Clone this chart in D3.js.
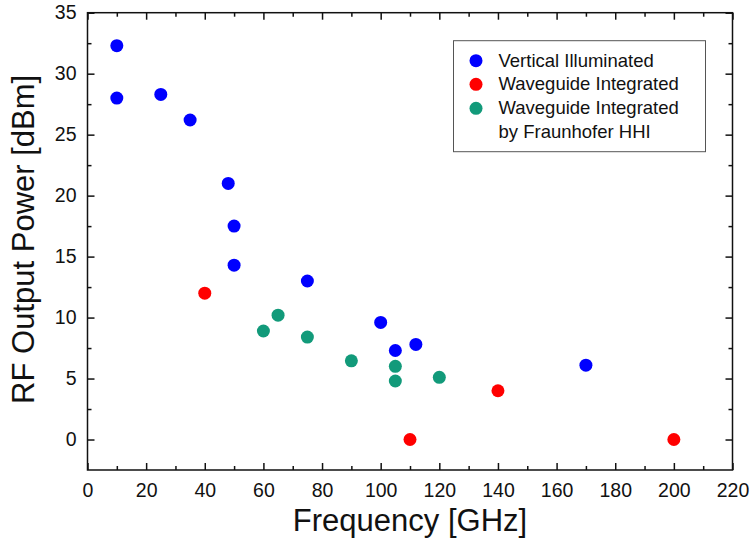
<!DOCTYPE html>
<html>
<head>
<meta charset="utf-8">
<script src="https://cdn.jsdelivr.net/npm/d3@7"></script>
<style>
  body { margin: 0; background: #fff; }
  text { font-family: "Liberation Sans", Arial, sans-serif; fill: #111; }
</style>
</head>
<body>
<div id="chart"></div>
<script>
// data
var seriesNames = ["Vertical Illuminated", "Waveguide Integrated", "Waveguide Integrated|by Fraunhofer HHI"];
var seriesColors = ["#0000ff", "#ff0000", "#129a7a"];

var verticalFreq  = [10, 10, 25, 35, 48, 50, 50, 75, 100, 105, 112, 170];
var verticalPower = [32.3, 28.0, 28.3, 26.2, 21.0, 17.5, 14.3, 13.0, 9.6, 7.3, 7.8, 6.1];

var waveguideFreq  = [40, 110, 140, 200];
var waveguidePower = [12.0, 0, 4.0, 0];

var hhiFreq  = [60, 65, 75, 90, 105, 105, 120];
var hhiPower = [8.9, 10.2, 8.4, 6.45, 6.0, 4.8, 5.1];

var xTicks = d3.range(0, 221, 20);
var yTicks = d3.range(0, 36, 5);

var margin = {top: 12.7, right: 17.5, bottom: 71, left: 87.5},
    width = 750 - margin.left - margin.right,
    height = 541 - margin.top - margin.bottom;

var svg = d3.select("#chart")
    .append("svg")
        .attr("width", 750)
        .attr("height", 541)
    .append("g")
        .attr("transform", "translate(" + margin.left + "," + margin.top + ")");

var x = d3.scaleLinear().domain([0, 220]).range([0, width]);
var y = d3.scaleLinear().domain([-2.5, 35]).range([height, 0]);

function styleAxis(g) {
    g.select(".domain").remove();
    g.selectAll("line").attr("stroke", "#111").attr("stroke-width", 1.5);
    g.selectAll("text").style("font-size", "19.5px").attr("fill", "#111");
}

// minor ticks (inside)
svg.append("g").attr("transform", "translate(0," + height + ")")
    .call(d3.axisTop(x).tickValues(d3.range(10, 220, 20)).tickSize(4).tickFormat(""))
    .call(styleAxis);
svg.append("g")
    .call(d3.axisBottom(x).tickValues(d3.range(10, 220, 20)).tickSize(4).tickFormat(""))
    .call(styleAxis);
svg.append("g")
    .call(d3.axisRight(y).tickValues(d3.range(2.5, 35, 5)).tickSize(4).tickFormat(""))
    .call(styleAxis);
svg.append("g").attr("transform", "translate(" + width + ",0)")
    .call(d3.axisLeft(y).tickValues(d3.range(2.5, 35, 5)).tickSize(4).tickFormat(""))
    .call(styleAxis);

// major ticks
svg.append("g").attr("transform", "translate(0," + height + ")")
    .call(d3.axisBottom(x).tickValues(xTicks).tickSizeInner(-7).tickPadding(13))
    .call(styleAxis);
svg.append("g")
    .call(d3.axisBottom(x).tickValues(xTicks).tickSize(7).tickFormat(""))
    .call(styleAxis);
svg.append("g")
    .call(d3.axisLeft(y).tickValues(yTicks).tickSizeInner(-7).tickPadding(11))
    .call(styleAxis);
svg.append("g").attr("transform", "translate(" + width + ",0)")
    .call(d3.axisLeft(y).tickValues(yTicks).tickSize(7).tickFormat(""))
    .call(styleAxis);

// frame
svg.append("rect")
    .attr("x", 0).attr("y", 0)
    .attr("width", width).attr("height", height)
    .attr("fill", "none")
    .attr("stroke", "#111")
    .attr("stroke-width", 1.5);

// axis titles
svg.append("text")
    .attr("x", width / 2)
    .attr("y", height + 61.5)
    .attr("text-anchor", "middle")
    .style("font-size", "31px")
    .text("Frequency [GHz]");

svg.append("text")
    .attr("transform", "translate(" + (34 - margin.left) + "," + (height / 2 - 2) + ") rotate(-90)")
    .attr("text-anchor", "middle")
    .style("font-size", "31px")
    .text("RF Output Power [dBm]");

// points
var series = [
    {freq: verticalFreq, power: verticalPower},
    {freq: waveguideFreq, power: waveguidePower},
    {freq: hhiFreq, power: hhiPower}
];

series.forEach(function(s, k) {
    var data = s.freq.map(function(f, i) { return [f, s.power[i]]; });
    svg.selectAll(".dot" + k)
        .data(data)
      .enter().append("circle")
        .attr("class", "dot" + k)
        .attr("cx", function(d) { return x(d[0]); })
        .attr("cy", function(d) { return y(d[1]); })
        .attr("r", 6.5)
        .attr("fill", seriesColors[k]);
});

// legend
var lg = svg.append("g").attr("transform", "translate(" + (453.5 - margin.left) + "," + (40.7 - margin.top) + ")");
lg.append("rect")
    .attr("width", 252).attr("height", 111)
    .attr("fill", "#fff")
    .attr("stroke", "#555")
    .attr("stroke-width", 1);

var rowY = [20, 43.6, 67.6];
seriesNames.forEach(function(name, k) {
    lg.append("circle")
        .attr("cx", 22.5)
        .attr("cy", rowY[k])
        .attr("r", 6.5)
        .attr("fill", seriesColors[k]);
    name.split("|").forEach(function(line, j) {
        lg.append("text")
            .attr("x", 45)
            .attr("y", rowY[k] + 6 + j * 23.6)
            .style("font-size", "18.5px")
            .text(line);
    });
});
</script>
</body>
</html>
